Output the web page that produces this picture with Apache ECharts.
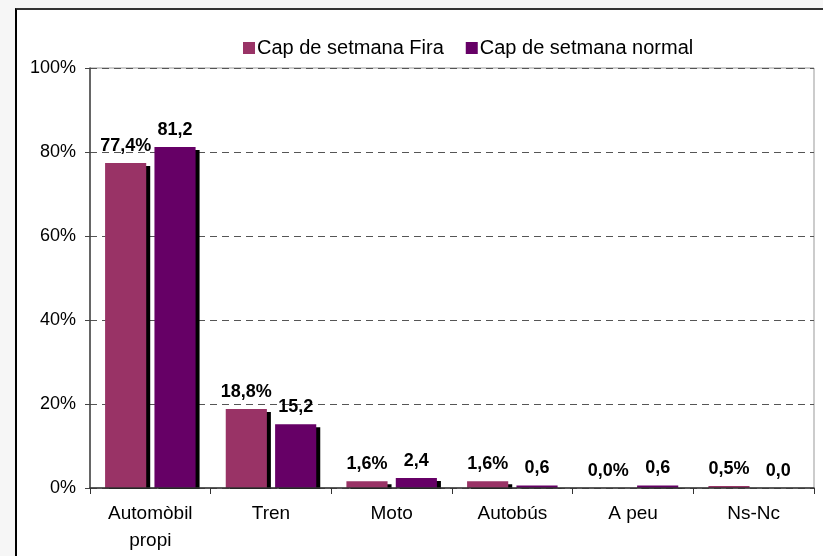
<!DOCTYPE html>
<html>
<head>
<meta charset="utf-8">
<script src="https://cdn.jsdelivr.net/npm/echarts@6/dist/echarts.min.js"></script>
<style>
  html, body { margin: 0; padding: 0; background: #f6f6f6; }
  #frame { position: absolute; left: 15px; top: 8px; width: 820px; height: 560px;
           background: #fff; border-left: 2px solid #000; border-top: 2px solid #333; }
  #main { position: absolute; left: 0; top: 0; width: 823px; height: 556px; }
</style>
</head>
<body>
<div id="frame"></div>
<div id="main"></div>
<script>
const categories = ['Automòbil\npropi', 'Tren', 'Moto', 'Autobús', 'A peu', 'Ns-Nc'];
const fira = [77.4, 18.8, 1.6, 1.6, 0.0, 0.5];
const normal = [81.2, 15.2, 2.4, 0.6, 0.6, 0.0];
const yTicks = [0, 20, 40, 60, 80, 100];

const fmt = v => v.toFixed(1).replace('.', ',');

const labelStyle = {
  show: true,
  position: 'top',
  distance: 8,
  color: '#000',
  fontFamily: 'Arial, Liberation Sans, sans-serif',
  fontWeight: 'bold',
  fontSize: 18
};
const shadow = { shadowColor: '#000', shadowOffsetX: 4, shadowOffsetY: 3, shadowBlur: 0 };

const chart = echarts.init(document.getElementById('main'));
chart.setOption({
  animation: false,
  textStyle: { fontFamily: 'Arial, Liberation Sans, sans-serif' },
  legend: {
    top: 33,
    left: 238,
    itemWidth: 12,
    itemHeight: 12,
    itemGap: 22,
    icon: 'rect',
    textStyle: { fontSize: 20, color: '#000', padding: [0, 0, 0, -3] },
    data: ['Cap de setmana Fira', 'Cap de setmana normal']
  },
  grid: {
    left: 90, right: 9, top: 68, bottom: 68,
    show: true, borderColor: '#999', borderWidth: 1, backgroundColor: 'transparent'
  },
  graphic: [{
    type: 'rect', z: 5,
    shape: { x: 92, y: 489, width: 722, height: 5 },
    style: { fill: '#fff' }
  }],
  xAxis: {
    type: 'category',
    data: categories,
    z: 10,
    axisLine: { lineStyle: { color: '#333', width: 1.5 } },
    axisTick: { show: true, length: 6, lineStyle: { color: '#333' } },
    axisLabel: { color: '#000', fontSize: 19, margin: 12, lineHeight: 27 }
  },
  yAxis: {
    type: 'value',
    min: yTicks[0],
    max: yTicks[yTicks.length - 1],
    interval: 20,
    axisLine: { show: true, lineStyle: { color: '#444', width: 1.5 } },
    axisTick: { show: true, length: 5, lineStyle: { color: '#444' } },
    axisLabel: { color: '#000', fontSize: 18, margin: 14, formatter: '{value}%' },
    splitLine: { show: true, lineStyle: { color: '#555', type: [7, 5], width: 1 } }
  },
  series: [
    {
      name: 'Cap de setmana Fira',
      type: 'bar',
      data: fira,
      barGap: '20%',
      barCategoryGap: '25%',
      itemStyle: Object.assign({ color: '#993366' }, shadow),
      label: Object.assign({}, labelStyle, { formatter: p => fmt(p.value) + '%' })
    },
    {
      name: 'Cap de setmana normal',
      type: 'bar',
      data: normal,
      itemStyle: Object.assign({ color: '#660066' }, shadow),
      label: Object.assign({}, labelStyle, { formatter: p => fmt(p.value) })
    }
  ]
});
</script>
</body>
</html>
